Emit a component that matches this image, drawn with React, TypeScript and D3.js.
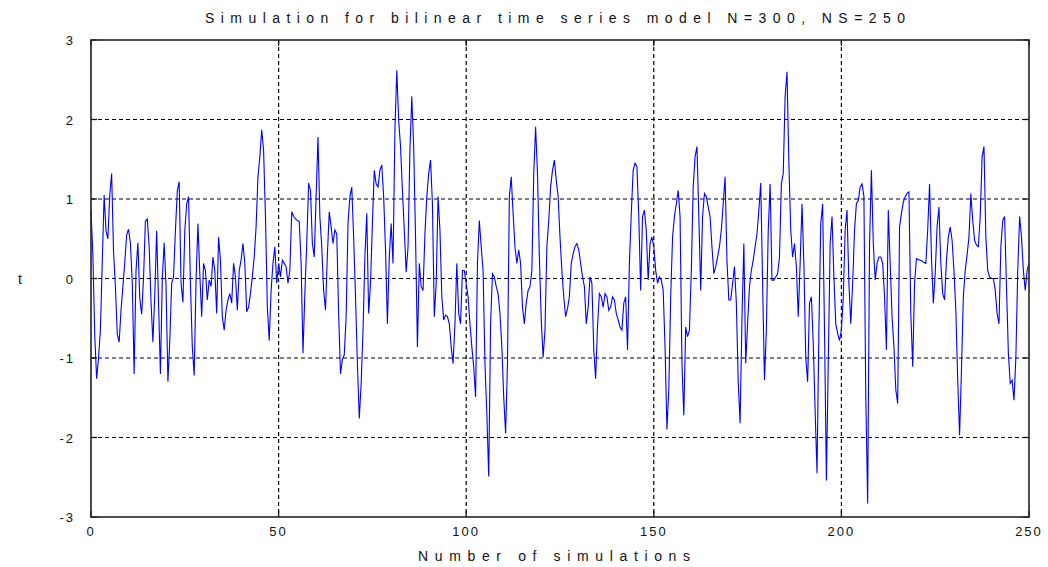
import React from "react";
import * as d3 from "d3";

// Simulated bilinear time series, sampled every half step along the x axis
const X_STEP = 0.5;
const seriesValues: number[] = [
  0.86, 0.3, -0.72, -1.26, -1.0, -0.65, 0.2, 1.05, 0.6, 0.5,
  1.05, 1.32, 0.35, -0.1, -0.7, -0.8, -0.4, -0.1, 0.2, 0.55,
  0.62, 0.45, -0.05, -1.2, 0.1, 0.45, -0.25, -0.45, 0.0, 0.72,
  0.75, 0.4, -0.3, -0.8, -0.2, 0.6, -0.3, -1.2, 0.0, 0.45,
  -0.1, -1.3, -0.78, -0.06, 0.02, 0.6, 1.1, 1.22, -0.06, -0.3,
  0.6, 0.94, 1.03, -0.06, -0.86, -1.22, -0.02, 0.69, 0.06, -0.48,
  0.19, 0.1, -0.27, -0.02, -0.1, 0.27, 0.1, -0.44, 0.52, 0.23,
  -0.48, -0.65, -0.4, -0.27, -0.19, -0.31, 0.19, 0.02, -0.4, 0.1,
  0.23, 0.44, 0.19, -0.42, -0.36, -0.19, 0.02, 0.27, 0.65, 1.28,
  1.53, 1.87, 1.61, 0.78, -0.36, -0.78, -0.15, 0.19, 0.4, -0.06,
  0.19, 0.02, 0.23, 0.19, 0.15, -0.06, 0.1, 0.84, 0.78, 0.75,
  0.73, 0.72, 0.19, -0.94, -0.19, 0.44, 1.2, 1.11, 0.44, 0.27,
  1.03, 1.78, 0.78, 0.4, -0.15, -0.4, 0.3, 0.84, 0.65, 0.44,
  0.61, 0.56, -0.44, -1.2, -1.02, -0.96, -0.48, 0.69, 1.03, 1.15,
  0.52, -0.23, -1.07, -1.76, -1.32, -0.65, 0.27, 0.82, -0.44, -0.06,
  0.69, 1.36, 1.19, 1.15, 1.36, 1.43, 1.03, 0.36, -0.57, 0.27,
  0.69, 0.19, 1.87, 2.62, 1.99, 1.66, 1.11, 0.61, 0.08, 0.4,
  1.61, 2.29, 1.66, 0.52, -0.86, 0.19, -0.1, -0.15, 0.56, 1.03,
  1.32, 1.49, 0.94, -0.48, -0.06, 1.03, 0.61, -0.23, -0.52, -0.46,
  -0.48, -0.57, -0.86, -1.07, -0.57, 0.19, -0.44, -0.57, 0.1, 0.1,
  -0.06, -0.23, -0.57, -0.86, -1.11, -1.49, 0.19, 0.73, 0.4, 0.1,
  -1.07, -1.7, -2.49, -0.57, 0.06, 0.02, -0.1, -0.19, -0.44, -0.86,
  -1.49, -1.95, -1.07, 1.03, 1.28, 0.82, 0.4, 0.19, 0.36, 0.19,
  -0.36, -0.57, -0.31, -0.15, -0.1, 0.1, 1.32, 1.91, 1.32, 0.27,
  -0.52, -0.99, -0.65, 0.4, 0.73, 1.15, 1.36, 1.49, 1.24, 1.03,
  0.52, 0.1, -0.23, -0.48, -0.38, -0.23, 0.19, 0.31, 0.4, 0.44,
  0.36, 0.19, 0.02, -0.1, -0.57, -0.36, 0.02, -0.06, -0.9, -1.26,
  -0.6, -0.19, -0.23, -0.36, -0.19, -0.23, -0.4, -0.36, -0.23, -0.27,
  -0.44, -0.52, -0.61, -0.65, -0.31, -0.23, -0.9, 0.19, 0.82, 1.36,
  1.45, 1.41, 0.78, -0.15, 0.78, 0.86, 0.6, -0.02, 0.44, 0.52,
  0.4, 0.1, -0.06, 0.02, -0.02, -0.15, -0.86, -1.9, -1.4, -0.23,
  0.52, 0.78, 0.94, 1.11, 0.78, -1.07, -1.72, -0.61, -0.73, -0.65,
  0.1, 1.15, 1.53, 1.66, 0.78, -0.15, 0.78, 1.07, 1.03, 0.9,
  0.78, 0.4, 0.06, 0.15, 0.27, 0.4, 0.61, 0.94, 1.28, 0.22,
  -0.27, -0.27, -0.06, 0.15, -0.31, -1.3, -1.82, -0.5, 0.44, -1.07,
  -0.57, -0.1, 0.1, 0.23, 0.4, 0.56, 0.86, 1.2, -0.06, -1.28,
  -0.65, 0.6, 1.19, -0.02, -0.02, 0.02, 0.06, 0.27, 1.19, 1.32,
  2.29, 2.6, 1.45, 0.61, 0.27, 0.44, 0.15, -0.48, 0.19, 0.94,
  0.19, -0.99, -1.3, -0.31, -0.23, -0.82, -1.66, -2.45, -0.65, 0.69,
  0.94, -0.65, -2.54, -1.07, 0.44, 0.78, 0.02, -0.57, -0.69, -0.78,
  -0.65, -0.23, 0.61, 0.86, -0.06, -0.57, -0.06, 0.61, 0.94, 0.98,
  1.15, 1.19, 1.03, -1.49, -2.83, 0.44, 1.36, 0.44, -0.02, 0.19,
  0.27, 0.27, 0.19, -0.23, -0.9, 0.86, 0.19, -0.48, -0.86, -1.4,
  -1.57, 0.65, 0.82, 0.96, 1.03, 1.07, 1.09, -0.44, -1.11, -0.06,
  0.25, 0.24, 0.23, 0.22, 0.2, 0.19, 0.61, 1.19, 0.27, -0.31,
  0.06, 0.65, 0.9, 0.19, -0.19, -0.27, 0.23, 0.52, 0.65, 0.48,
  0.1, -0.4, -1.28, -1.97, -1.15, -0.23, 0.1, 0.3, 0.52, 1.07,
  0.73, 0.48, 0.42, 0.4, 0.78, 1.53, 1.66, 0.52, 0.1, 0.02,
  0.0, 0.0, -0.15, -0.44, -0.57, 0.4, 0.73, 0.78, -0.1, -0.94,
  -1.32, -1.28, -1.53, -0.99, 0.1, 0.78, 0.52, 0.1, -0.15, 0.1,
  0.19,
];

const xTicks: number[] = [0, 50, 100, 150, 200, 250];
const yTicks: number[] = [-3, -2, -1, 0, 1, 2, 3];
const xDomain: [number, number] = [0, 250];
const yDomain: [number, number] = [-3, 3];

const titleText = "Simulation for bilinear time series model N=300, NS=250";
const xLabelText = "Number of simulations";
const yLabelText = "t";

const W = 1048;
const H = 567;
const plot = { left: 91, right: 1029, top: 40, bottom: 517 };
const FONT = "'Liberation Sans', Arial, Helvetica, sans-serif";

export default function App() {
  const x = d3.scaleLinear().domain(xDomain).range([plot.left, plot.right]);
  const y = d3.scaleLinear().domain(yDomain).range([plot.bottom, plot.top]);

  const pts: [number, number][] = seriesValues.map((v, i) => [i * X_STEP, v]);
  const line = d3
    .line<[number, number]>()
    .x((d) => x(d[0]))
    .y((d) => y(d[1]));

  const tickLen = 6;
  const gridDash = "4,3";

  return (
    <svg
      width={W}
      height={H}
      viewBox={`0 0 ${W} ${H}`}
      style={{ position: "absolute", left: 0, top: 0, background: "#fff" }}
    >
      <rect x={0} y={0} width={W} height={H} fill="#fff" />

      {/* grid */}
      <g stroke="#000" strokeWidth={1.2} strokeDasharray={gridDash}>
        {xTicks
          .filter((t) => t > xDomain[0] && t < xDomain[1])
          .map((t) => (
            <line key={`gx${t}`} x1={x(t)} x2={x(t)} y1={plot.top} y2={plot.bottom} />
          ))}
        {yTicks
          .filter((t) => t > yDomain[0] && t < yDomain[1])
          .map((t) => (
            <line key={`gy${t}`} x1={plot.left} x2={plot.right} y1={y(t)} y2={y(t)} />
          ))}
      </g>

      {/* series */}
      <path d={line(pts) ?? ""} fill="none" stroke="#0000ff" strokeWidth={1.1} />

      {/* tick marks */}
      <g stroke="#111" strokeWidth={1.3}>
        {xTicks.map((t) => (
          <g key={`tx${t}`}>
            <line x1={x(t)} x2={x(t)} y1={plot.bottom} y2={plot.bottom - tickLen} />
            <line x1={x(t)} x2={x(t)} y1={plot.top} y2={plot.top + tickLen} />
          </g>
        ))}
        {yTicks.map((t) => (
          <g key={`ty${t}`}>
            <line x1={plot.left} x2={plot.left + tickLen} y1={y(t)} y2={y(t)} />
            <line x1={plot.right} x2={plot.right - tickLen} y1={y(t)} y2={y(t)} />
          </g>
        ))}
      </g>

      {/* frame */}
      <rect
        x={plot.left}
        y={plot.top}
        width={plot.right - plot.left}
        height={plot.bottom - plot.top}
        fill="none"
        stroke="#222"
        strokeWidth={1.6}
      />

      {/* tick labels */}
      <g fontFamily={FONT} fontSize={13} fill="#111">
        {xTicks.map((t) => (
          <text key={`lx${t}`} x={x(t)} y={plot.bottom + 19} textAnchor="middle" letterSpacing={2}>
            {String(t)}
          </text>
        ))}
        {yTicks.map((t) => (
          <text key={`ly${t}`} x={plot.left - 16} y={y(t) + 5} textAnchor="end" letterSpacing={2}>
            {String(t)}
          </text>
        ))}
      </g>

      {/* title and axis labels */}
      <text
        x={(205 + 905) / 2}
        y={23}
        textAnchor="middle"
        fontFamily={FONT}
        fontSize={14}
        fill="#111"
        textLength={700}
        lengthAdjust="spacing"
      >
        {titleText}
      </text>
      <text
        x={(418 + 690) / 2}
        y={561}
        textAnchor="middle"
        fontFamily={FONT}
        fontSize={14}
        fill="#111"
        textLength={272}
        lengthAdjust="spacing"
      >
        {xLabelText}
      </text>
      <text x={20} y={284} textAnchor="middle" fontFamily={FONT} fontSize={14} fill="#111">
        {yLabelText}
      </text>
    </svg>
  );
}
